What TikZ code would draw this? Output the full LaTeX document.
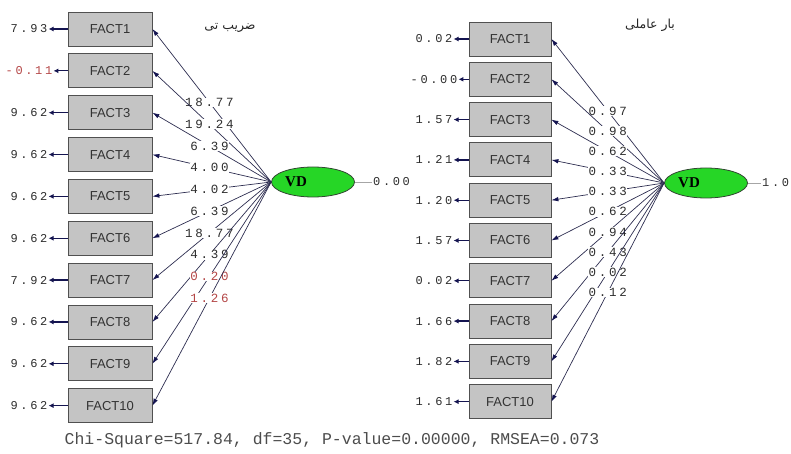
\documentclass[tikz,border=0pt]{standalone}
\usepackage{fontspec}
\setmainfont{Liberation Serif}
\setsansfont{Liberation Sans}
\newfontfamily\lisfont[LetterSpace=22]{Liberation Mono}
\newfontfamily\plainmono{Liberation Mono}
\newfontfamily\arabicfont[Script=Arabic]{DejaVu Sans}
\TeXXeTstate=1
\usetikzlibrary{arrows.meta,shapes.geometric}
\definecolor{boxgray}{RGB}{196,196,196}
\definecolor{boxline}{RGB}{80,80,80}
\definecolor{vdgreen}{RGB}{38,214,38}
\definecolor{vdline}{RGB}{50,70,50}
\definecolor{pathcol}{RGB}{45,45,80}
\definecolor{headcol}{RGB}{20,20,80}
\definecolor{numtxt}{RGB}{45,45,45}
\definecolor{numred}{RGB}{180,70,70}
\begin{document}
\begin{tikzpicture}[x=1pt,y=-1pt,
  fact/.style={draw=boxline,fill=boxgray,line width=0.8pt,minimum width=84pt,minimum height=34pt,inner sep=0pt,font=\sffamily\fontsize{13}{15}\selectfont,text=black!80},
  vdnode/.style={ellipse,draw=vdline,fill=vdgreen,line width=0.8pt,minimum width=83pt,minimum height=30pt,inner sep=0pt,font=\bfseries\fontsize{15}{17}\selectfont},
  pathlab/.style={fill=white,inner sep=0.6pt,font=\lisfont\fontsize{12.5}{14}\selectfont},
  resid/.style={inner sep=1pt,font=\lisfont\fontsize{12}{14}\selectfont},
  patharrow/.style={draw=pathcol,line width=0.7pt,-{Latex[length=7pt,width=4.5pt,color=headcol]}},
  resarrow/.style={draw=headcol,line width=1.3pt,-{Latex[length=5pt,width=5pt]}},
  errline/.style={draw=gray!70,line width=0.6pt},
  title/.style={font=\arabicfont\fontsize{12.5}{14}\selectfont,text=black!85}
]
\useasboundingbox (0,0) rectangle (791,454);

% ---------- left panel ----------
\node[vdnode] (vdL) at (313,182) {VD\kern34pt};
\node[resid,anchor=west,text=numtxt] (zL) at (372,182) {0.00};
\draw[errline] (vdL.east) -- (zL.west);
\node[title] (tL) at (230,28) {\beginR ضریب تی\endR};

\foreach \i/\res/\rc/\tv/\tc [evaluate=\i as \yy using {29+41.85*(\i-1)}] in
 {1/7.93/numtxt/18.77/numtxt, 2/-0.11/numred/19.24/numtxt, 3/9.62/numtxt/6.39/numtxt,
  4/9.62/numtxt/4.00/numtxt, 5/9.62/numtxt/4.02/numtxt, 6/9.62/numtxt/6.39/numtxt,
  7/7.92/numtxt/18.77/numtxt, 8/9.62/numtxt/4.39/numtxt, 9/9.62/numtxt/0.20/numred,
  10/9.62/numtxt/1.26/numred}{
  \node[fact] (L\i) at (110,\yy) {FACT\i};
  \node[resid,text=\rc] (Lr\i) at (29,\yy) {\res};
  \draw[resarrow] (L\i.west) -- (Lr\i.east);
  \draw[patharrow] (vdL.west) -- node[pathlab,pos=0.52,text=\tc] {\tv} (L\i.east);
}

% ---------- right panel ----------
\node[vdnode] (vdR) at (706,183) {VD\kern34pt};
\node[resid,anchor=west,text=numtxt] (zR) at (761,183) {1.0};
\draw[errline] (vdR.east) -- (zR.west);
\node[title] (tR) at (650,25) {\beginR بار عاملی\endR};

\foreach \i/\res/\tv [evaluate=\i as \yy using {39+40.3*(\i-1)}] in
 {1/0.02/0.97, 2/-0.00/0.98, 3/1.57/0.62, 4/1.21/0.33, 5/1.20/0.33,
  6/1.57/0.62, 7/0.02/0.94, 8/1.66/0.43, 9/1.82/0.02, 10/1.61/0.12}{
  \node[fact,minimum width=82pt] (R\i) at (510,\yy) {FACT\i};
  \node[resid,text=numtxt] (Rr\i) at (434,\yy) {\res};
  \draw[resarrow] (R\i.west) -- (Rr\i.east);
  \draw[patharrow] (vdR.west) -- node[pathlab,pos=0.5,text=numtxt] {\tv} (R\i.east);
}

% ---------- fit statistics ----------
\node[font=\plainmono\fontsize{16.5}{18}\selectfont,text=black!70] (fit) at (332,440)
  {Chi-Square=517.84, df=35, P-value=0.00000, RMSEA=0.073};
\end{tikzpicture}
\end{document}
